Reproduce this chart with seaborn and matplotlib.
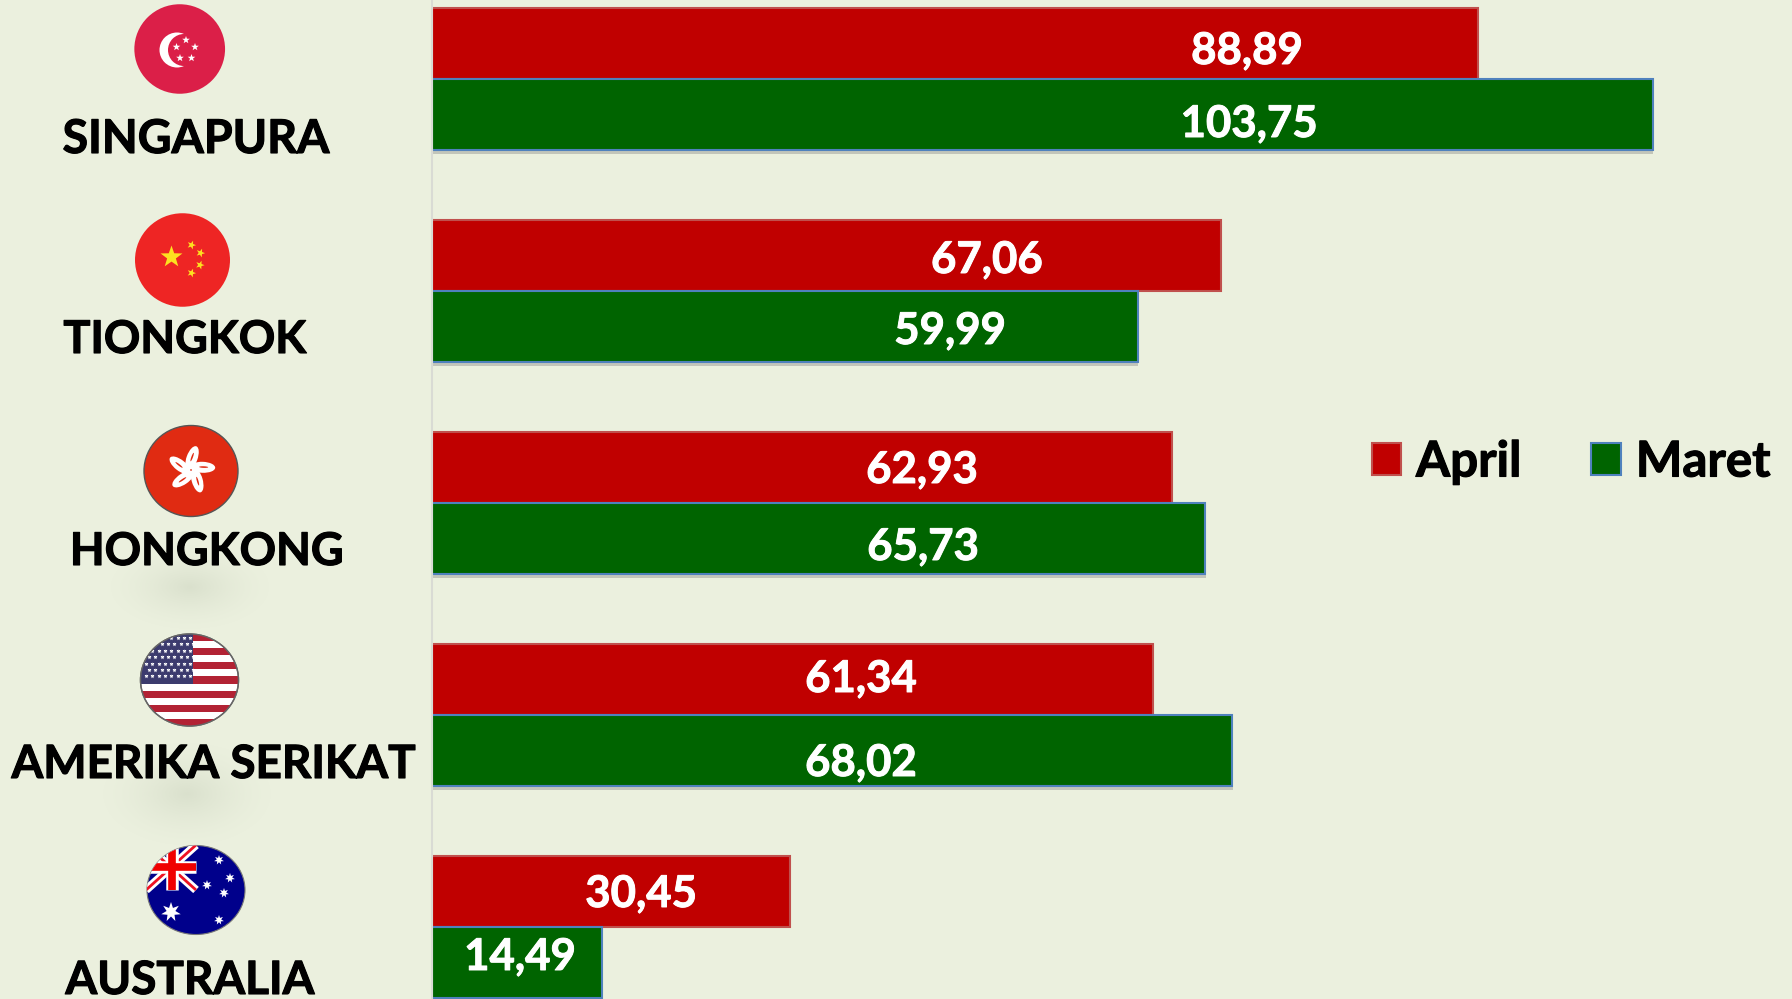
import numpy as np
import pandas as pd
import matplotlib
matplotlib.use("Agg")
import matplotlib.pyplot as plt
import matplotlib.patheffects as pe
from matplotlib.patches import Ellipse, Rectangle, Polygon, Circle
import seaborn as sns

countries = ["SINGAPURA", "TIONGKOK", "HONGKONG", "AMERIKA SERIKAT", "AUSTRALIA"]
april = [88.89, 67.06, 62.93, 61.34, 30.45]
maret = [103.75, 59.99, 65.73, 68.02, 14.49]
april_text = ["88,89", "67,06", "62,93", "61,34", "30,45"]
maret_text = ["103,75", "59,99", "65,73", "68,02", "14,49"]

# layout (pixels in the 1792x999 canvas)
W, H = 1792, 999
X0 = 431.5
PX_PER_UNIT = 11.77
FIRST_Y, STEP = 79, 212
april_lab_xy = [(1247, 51), (987, 260), (922, 470), (861, 679), (641, 894)]
maret_lab_xy = [(1249, 124), (950, 331), (923, 547), (861, 763), (520, 957)]
name_xy = [(196, 135), (185, 336), (207, 548), (214, 761), (190, 977)]
name_sizes = [33.5, 32.5, 32.5, 33, 33]

BG = "#EBF0DE"
RED, GREEN = "#C00000", "#006400"
sns.set_theme(style="white")
plt.rcParams["font.family"] = ["Lato", "DejaVu Sans"]
plt.rcParams["font.weight"] = "bold"

df = pd.DataFrame({
    "Negara": countries * 2,
    "Nilai": april + maret,
    "Bulan": ["April"] * 5 + ["Maret"] * 5,
})

fig = plt.figure(figsize=(W / 100, H / 100), dpi=100, facecolor=BG)
ax = fig.add_axes([X0 / W, 0, 1 - X0 / W, 1], facecolor=BG)
sns.barplot(data=df, y="Negara", x="Nilai", hue="Bulan", order=countries,
            palette={"April": RED, "Maret": GREEN}, width=0.67, gap=0,
            saturation=1, errorbar=None, legend=False, ax=ax)
edges = ["#C0504D", "#4F81BD"]
for cont, ec in zip(ax.containers, edges):
    for p in cont:
        p.set_edgecolor(ec)
        p.set_linewidth(1.5)
for p in ax.containers[1]:
    p.set_path_effects([pe.SimplePatchShadow(offset=(0.5, -3), shadow_rgbFace="#777777", alpha=0.35), pe.Normal()])
ax.set_xlim(0, (W - X0) / PX_PER_UNIT)
ax.set_ylim((H - FIRST_Y) / STEP, -FIRST_Y / STEP)
ax.set_xlabel(""); ax.set_ylabel("")
ax.set_xticks([]); ax.set_yticks([])
sns.despine(ax=ax, top=True, right=True, bottom=True, left=False)
ax.spines["left"].set_color("#D9DBD4")
ax.spines["left"].set_linewidth(1.5)

# overlay in pixel coordinates for labels and flags
ov = fig.add_axes([0, 0, 1, 1], facecolor="none", zorder=5)
ov.set_xlim(0, W); ov.set_ylim(H, 0); ov.axis("off")

for txts, xys in ((april_text, april_lab_xy), (maret_text, maret_lab_xy)):
    for t, (x, y) in zip(txts, xys):
        ov.text(x, y, t, color="white", fontsize=31.5, fontweight="bold", ha="center", va="center",
                path_effects=[pe.withStroke(linewidth=0.7, foreground="white")])
for n, (x, y), s in zip(countries, name_xy, name_sizes):
    ov.text(x, y, n, color="black", fontsize=s, fontweight="bold", ha="center", va="center_baseline",
            path_effects=[pe.withStroke(linewidth=0.8, foreground="black")])

# legend
handles = [Rectangle((0, 0), 1, 1, fc=RED, ec="#C0504D", lw=1.5),
           Rectangle((0, 0), 1, 1, fc=GREEN, ec="#4F81BD", lw=1.5)]
leg = fig.legend(handles, ["April", "Maret"], ncol=2, frameon=False, fontsize=35.5,
                 handlelength=0.6, handleheight=0.6, handletextpad=0.3, columnspacing=1.42,
                 borderpad=0, borderaxespad=0, loc="center", labelcolor="black",
                 bbox_to_anchor=(1571 / W, 1 - 462 / H))
for t in leg.get_texts():
    t.set_path_effects([pe.withStroke(linewidth=0.8, foreground="black")])

# soft blurred spots
yy, xx = np.mgrid[0:1:200j, 0:1:200j]
r = np.sqrt((xx - .5) ** 2 + (yy - .5) ** 2) * 2
for cx, cy, rx, ry in [(190, 587, 85, 45), (187, 794, 90, 55)]:
    rgba = np.zeros((200, 200, 4))
    rgba[..., :3] = matplotlib.colors.to_rgb("#B5BFA8")
    rgba[..., 3] = np.clip(1 - r, 0, 1) ** 1.6 * 0.32
    ov.imshow(rgba, extent=(cx - rx, cx + rx, cy + ry, cy - ry), aspect="auto", zorder=0)
ov.set_xlim(0, W); ov.set_ylim(H, 0)


def star(cx, cy, R, color, n=5, rot=-90, inner=0.4, z=4):
    a = np.deg2rad(rot + np.arange(2 * n) * 180 / n)
    rad = np.where(np.arange(2 * n) % 2 == 0, R, R * inner)
    ov.add_patch(Polygon(np.c_[cx + rad * np.cos(a), cy + rad * np.sin(a)], fc=color, ec="none", zorder=z))


# Singapore
ov.add_patch(Ellipse((179.7, 49), 90.7, 89.5, fc="#DB1F48", ec="none"))
ov.add_patch(Circle((177, 50), 17.5, fc="white", ec="none", zorder=3))
ov.add_patch(Circle((184, 50), 16, fc="#DB1F48", ec="none", zorder=3))
for x, y in [(186, 40), (195, 47), (176.5, 47), (180, 58), (191.5, 58)]:
    star(x, y, 4, "white")

# China
ov.add_patch(Ellipse((182.5, 260), 95, 93.5, fc="#EE2524", ec="none"))
star(171.5, 257, 11.5, "#FDE020")
for x, y in [(191.5, 245), (200.5, 253), (200, 265), (191.5, 273)]:
    star(x, y, 4.6, "#FDE020", rot=-70)

# Hong Kong
ov.add_patch(Ellipse((191, 471), 94, 91, fc="#E02B12", ec="#555555", lw=1))
for k in range(5):
    a = np.deg2rad(-85 + k * 72)
    ang = np.rad2deg(a) + 15
    ov.add_patch(Ellipse((191 + 12 * np.cos(a), 470 + 12 * np.sin(a)), 25, 11,
                         angle=ang, fc="white", ec="none", zorder=3))
    ov.add_patch(Ellipse((191 + 13 * np.cos(a), 470 + 13 * np.sin(a)), 9, 1.6,
                         angle=ang, fc="#E02B12", ec="none", zorder=3.1))

# USA
clip = Ellipse((189.5, 680), 98, 92, fc="white", ec="#666666", lw=1, zorder=2)
ov.add_patch(clip)
top, bot = 634, 726
sh = (bot - top) / 13
for i in range(0, 13, 2):
    r_ = Rectangle((140, top + i * sh), 100, sh, fc="#B22234", ec="none", zorder=2.5)
    ov.add_patch(r_); r_.set_clip_path(clip)
can = Rectangle((140, top), 53, 7 * sh, fc="#3C3B6E", ec="none", zorder=2.6)
ov.add_patch(can); can.set_clip_path(clip)
for j in range(7):
    for i in range(8):
        dots = ov.plot(146 + i * 6.3 + (j % 2) * 3, top + 4 + j * 6.4, marker="*", ms=3.2, color="white", mew=0, zorder=2.7, ls="none")
        dots[0].set_clip_path(clip)
ov.add_patch(Ellipse((189.5, 680), 98, 92, fc="none", ec="#666666", lw=1, zorder=3))

# Australia
au = Ellipse((196, 890), 98, 89, fc="#00008B", ec="#777777", lw=0.8, zorder=2)
ov.add_patch(au)
for (x1, y1, x2, y2, c, lw) in [(146, 890, 196, 845, "white", 6), (146, 845, 196, 890, "white", 6),
                                (146, 890, 196, 845, "#EE1122", 2), (146, 845, 196, 890, "#EE1122", 2),
                                (172, 845, 172, 890, "white", 9), (146, 867, 196, 867, "white", 9),
                                (172, 845, 172, 890, "#F00000", 5.5), (146, 867, 196, 867, "#F00000", 5.5)]:
    ln = ov.plot([x1, x2], [y1, y2], color=c, lw=lw, zorder=2.5, solid_capstyle="butt")[0]
    ln.set_clip_path(au)
star(171, 912, 10, "white", n=7, inner=0.45)
for x, y in [(219, 860), (230, 878), (207, 885), (224, 893), (219, 920)]:
    star(x, y, 5, "white", n=7, inner=0.45)

fig.savefig("out.png", dpi=100, facecolor=BG)
